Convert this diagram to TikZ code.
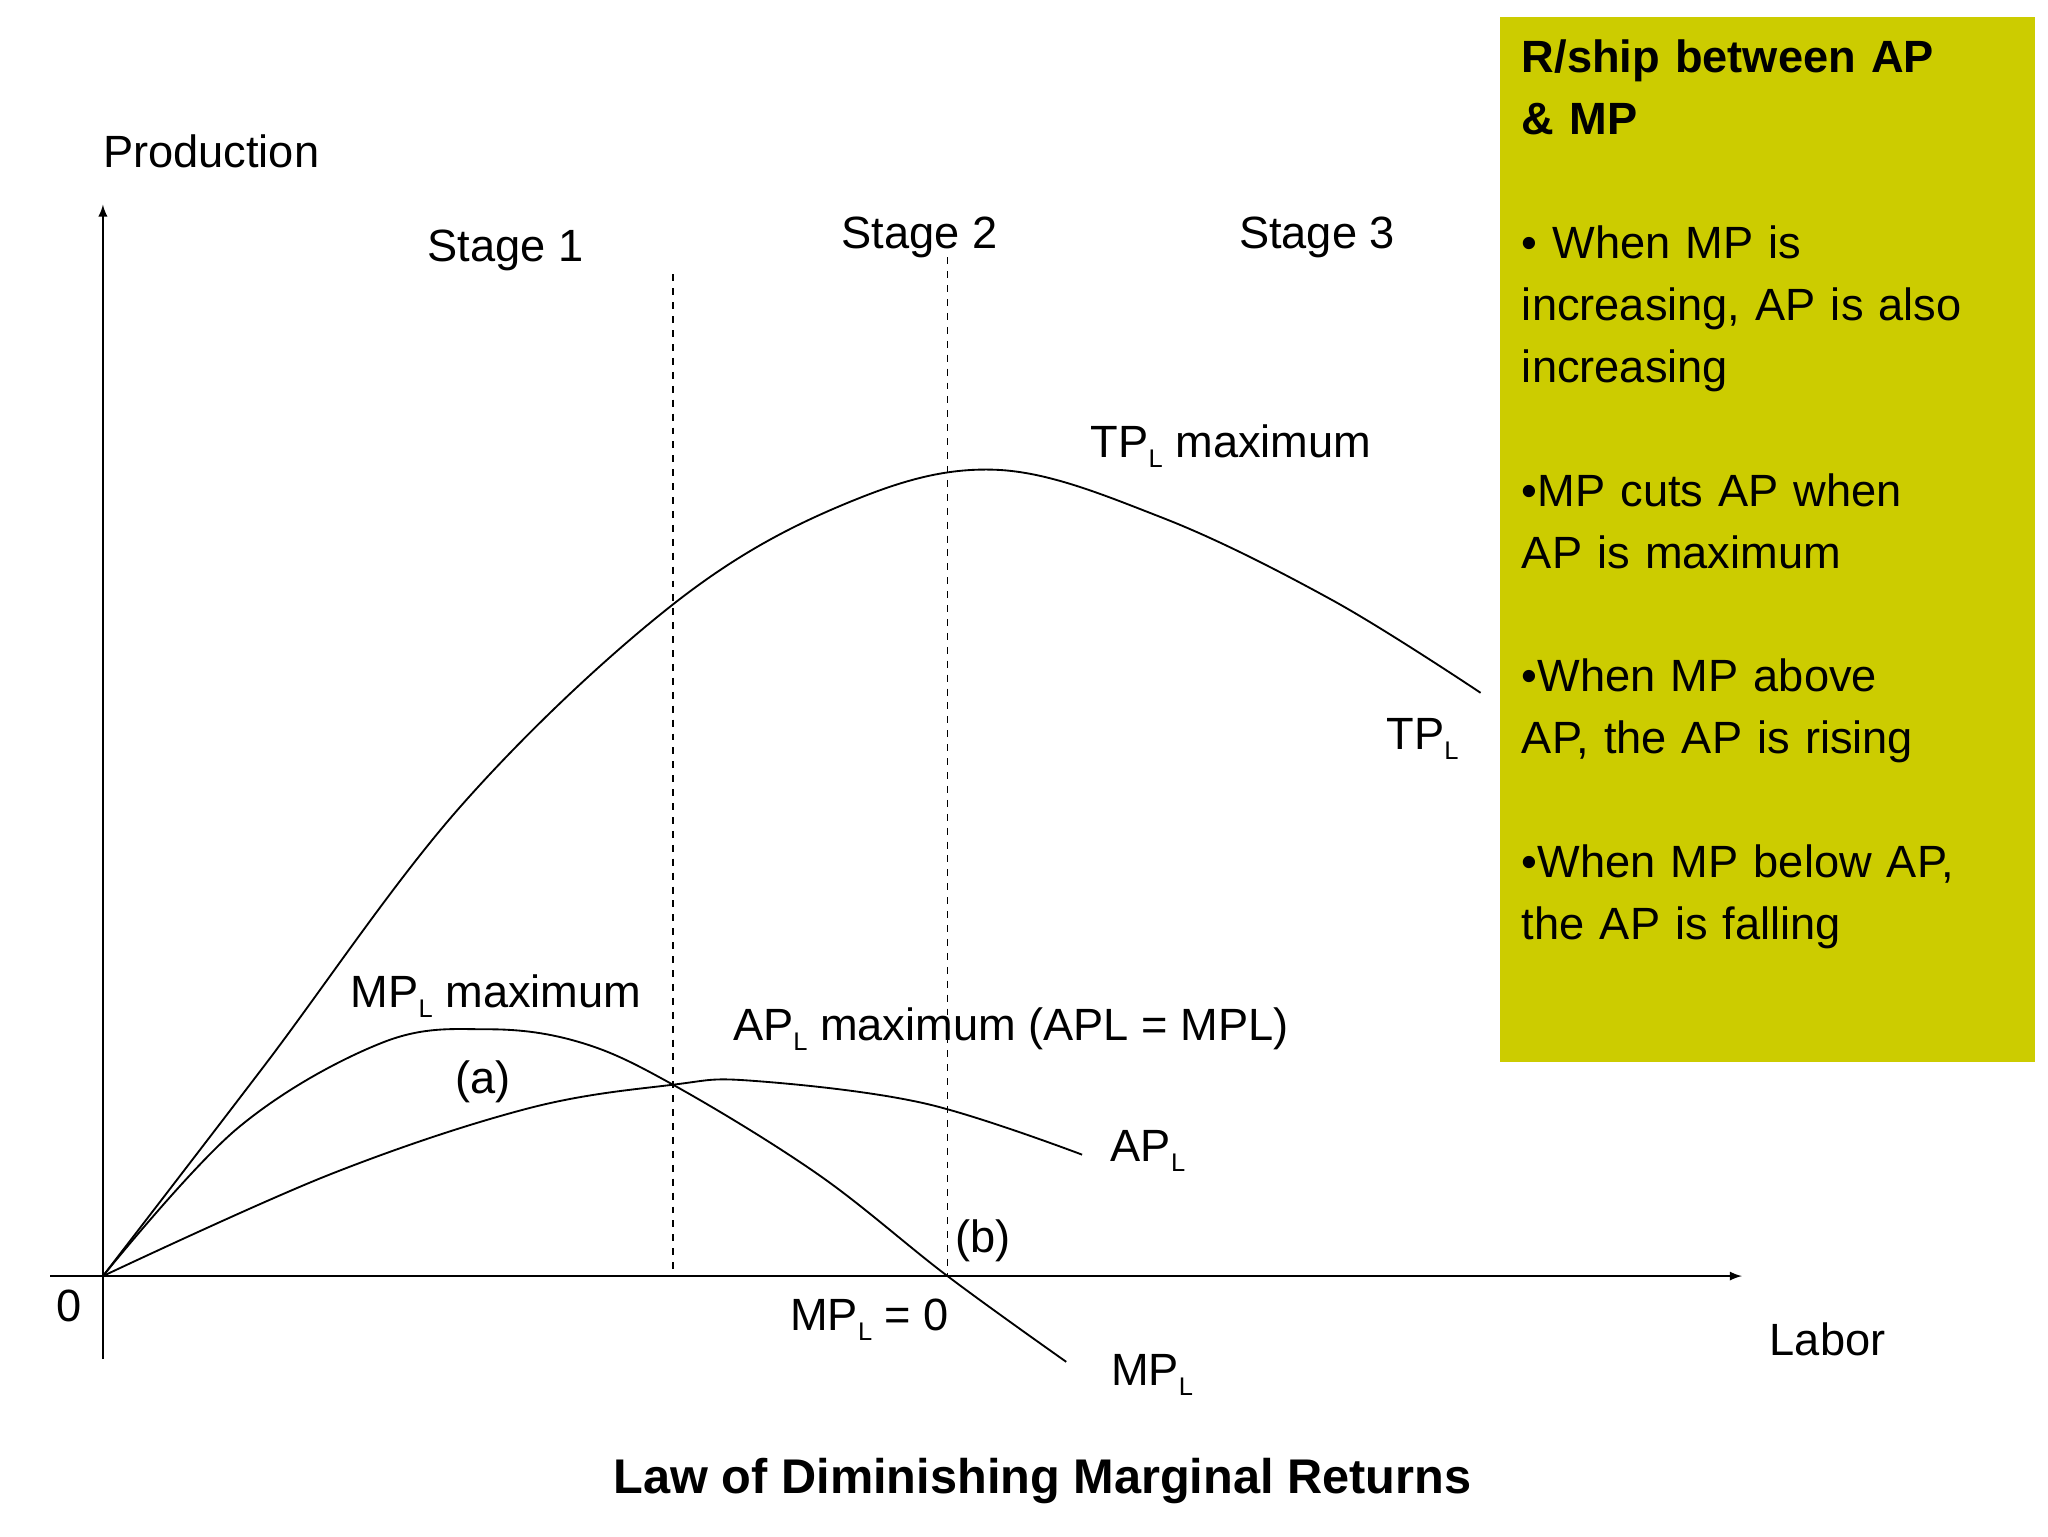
\documentclass[tikz,border=0pt]{standalone}
\usepackage{fontspec}
\setmainfont{Liberation Sans}
\newcommand\lsub{\raisebox{-0.4ex}{\fontsize{11}{11}\selectfont L}}
\begin{document}
\begin{tikzpicture}[x=0.02cm,y=-0.02cm,
  lbl/.style={font=\fontsize{19.5}{23}\selectfont,inner sep=0pt},
  curve/.style={line width=0.8pt},
  stage/.style={dashed,line width=0.8pt}]
\useasboundingbox (0,0) rectangle (1552,1164);
\fill[fill={rgb,255:red,204;green,204;blue,0}] (1137,13) rectangle (1542,805);
\node[anchor=north west,inner sep=0pt,text width=7.6cm,align=left,
  font=\fontsize{19.5}{26.7}\selectfont] (box) at (1153,30)
 {\textbf{R/ship between AP\\\& MP}\\[26.7pt]
 • When MP is\\increasing, AP is also\\increasing\\[26.7pt]
 •MP cuts AP when\\AP is maximum\\[26.7pt]
 •When MP above\\AP, the AP is rising\\[26.7pt]
 •When MP below AP,\\the AP is falling};
\coordinate (o) at (78,967);
\coordinate (xs) at (38,967); \coordinate (xe) at (1320,967);
\coordinate (ys) at (78,1030); \coordinate (ye) at (78,155);
\draw[-latex,line width=0.8pt] (xs) -- (xe);
\draw[-latex,line width=0.8pt] (ys) -- (ye);
\coordinate (d1t) at (510,208); \coordinate (d1b) at (510,967);
\coordinate (d2t) at (718,195); \coordinate (d2b) at (718,967);
\draw[stage] (d1t) -- (d1b);
\draw[stage] (d2t) -- (d2b);
\draw[curve] plot[smooth,tension=0.6] coordinates {(78,967) (200,808) (350,610) (510,458) (640,382) (755,356) (880,392) (1010,455) (1122,525)};
\draw[curve] plot[smooth,tension=0.6] coordinates {(78,967) (180,855) (290,790) (370,780) (440,790) (510,822) (620,890) (718,967) (808,1032)};
\draw[curve] plot[smooth,tension=0.6] coordinates {(78,967) (250,890) (400,840) (510,822) (570,819) (700,836) (820,875)};
\node[lbl] (pr) at (160,115) {Production};
\node[lbl] (s1) at (383,190) {Stage 1};
\node[lbl] (s2) at (697,180) {Stage 2};
\node[lbl] (s3) at (998,180) {Stage 3};
\node[lbl] (tpm) at (933,338) {TP\lsub{} maximum};
\node[lbl] (tp) at (1078,560) {TP\lsub};
\node[lbl] (mpm) at (376,755) {MP\lsub{} maximum};
\node[lbl] (a) at (366,820) {(a)};
\node[lbl] (apm) at (766,780) {AP\lsub{} maximum (APL = MPL)};
\node[lbl] (ap) at (870,872) {AP\lsub};
\node[lbl] (b) at (745,940) {(b)};
\node[lbl] (mp0) at (659,1000) {MP\lsub{} = 0};
\node[lbl] (mp) at (873,1042) {MP\lsub};
\node[lbl] (zero) at (52,990) {0};
\node[lbl] (lab) at (1385,1015) {Labor};
\node[lbl,font=\fontsize{21}{25}\selectfont\bfseries] (title) at (790,1122) {Law of Diminishing Marginal Returns};
\end{tikzpicture}
\end{document}
